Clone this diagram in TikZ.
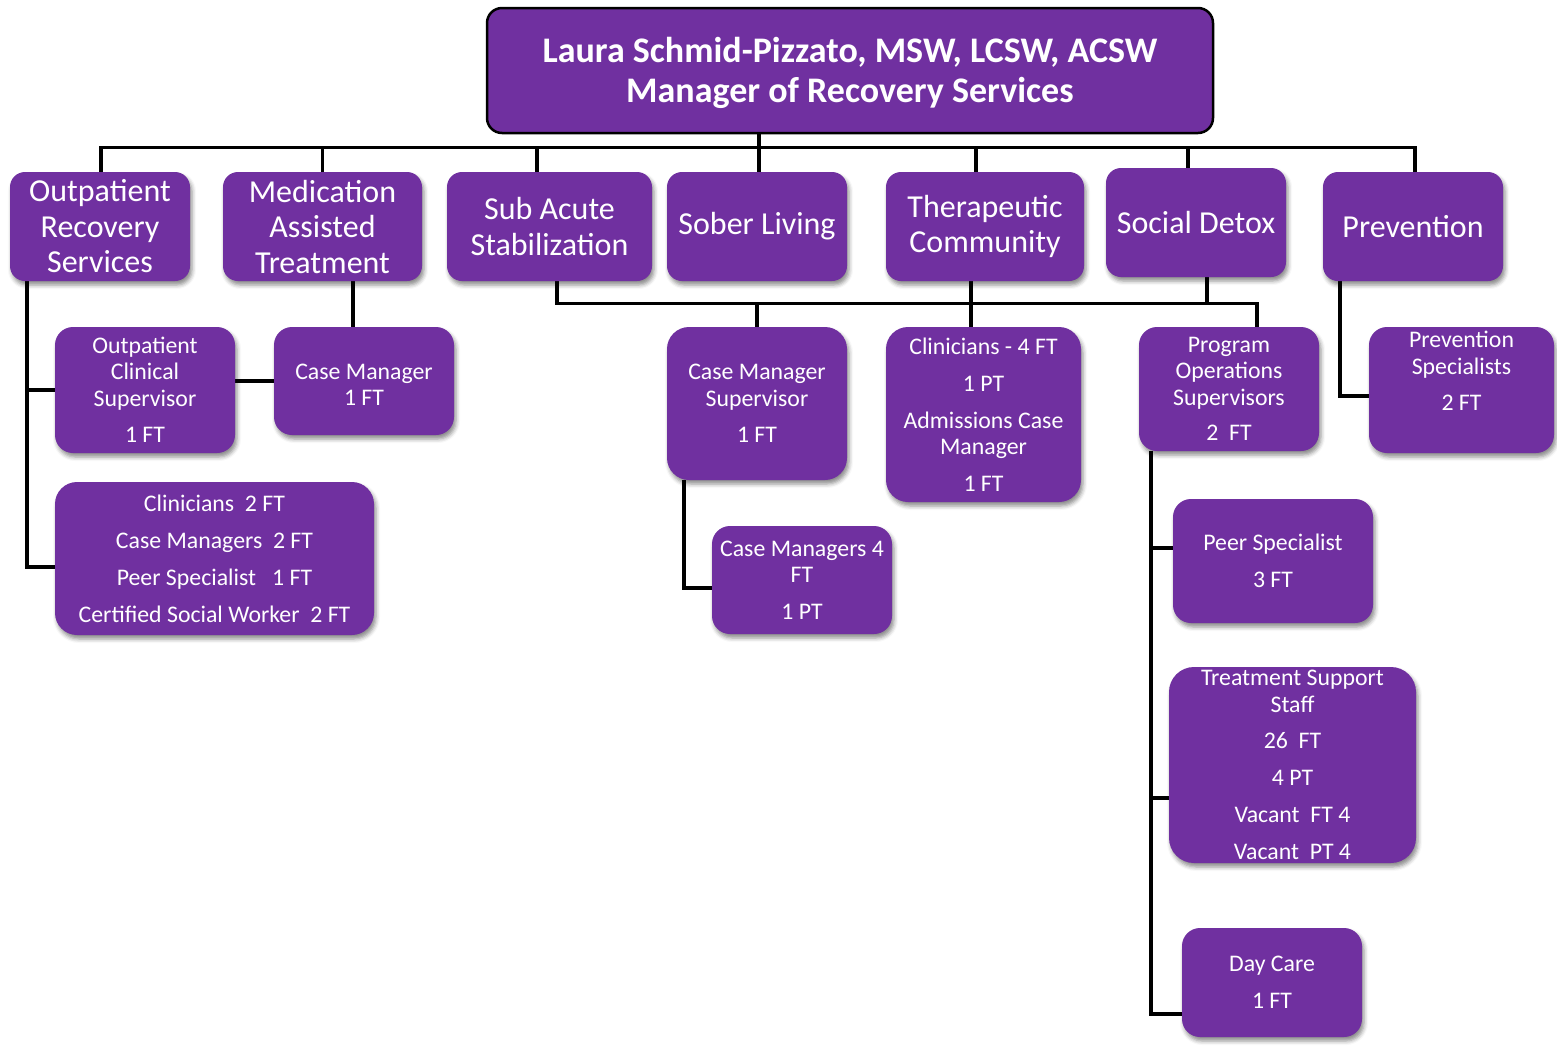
\documentclass[tikz,border=0pt]{standalone}
\usepackage{fontspec}
\setmainfont{Carlito}
\usetikzlibrary{shadows.blur,backgrounds}
\definecolor{orgpurple}{HTML}{7030A0}
\begin{document}
\begin{tikzpicture}[x=1pt,y=-1pt,
  conn/.style={draw=black,line width=3.2pt,line join=miter},
  unit/.style={fill=orgpurple,text=white,align=center,inner sep=0pt,
    rounded corners=15pt,
    blur shadow={shadow xshift=2pt,shadow yshift=-4pt,shadow blur radius=4pt,shadow opacity=45}},
  head/.style={unit,font=\fontsize{32}{35.5}\selectfont,rounded corners=15pt},
  staff/.style={unit,font=\fontsize{23.8}{26.5}\selectfont,rounded corners=18pt},
  txt/.style={text=white,align=center,inner sep=0pt,font=\fontsize{23.8}{26.5}\selectfont},
]
\useasboundingbox (0,0) rectangle (1557,1045);

% ---- director ----
\node[fill=orgpurple,text=white,align=center,inner sep=0pt,rounded corners=15pt,
      draw=black,line width=2.5pt,minimum width=726pt,minimum height=125pt] (top) at (850,70.5) {};
\node[text=white,align=center,inner sep=0pt,
      font=\fontsize{36}{40}\selectfont\bfseries] (top-text) at (850,72.5)
  {Laura Schmid-Pizzato, MSW, LCSW, ACSW\\Manager of Recovery Services};

% ---- programs ----
\node[head,minimum width=180pt,minimum height=109pt] (ors) at (100,226.5)
  {Outpatient\\Recovery\\Services};
\node[head,minimum width=199pt,minimum height=109pt] (mat) at (322.5,226.5)
  {Medication\\Assisted\\Treatment};
\node[head,minimum width=205pt,minimum height=109pt] (sas) at (549.5,226.5)
  {Sub Acute\\Stabilization};
\node[head,minimum width=180pt,minimum height=109pt] (sl) at (757,226.5)
  {Sober Living};
\node[head,minimum width=198pt,minimum height=109pt] (tc) at (985,226.5)
  {Therapeutic\\Community};
\node[head,minimum width=180pt,minimum height=109pt] (sd) at (1196,222.5)
  {Social Detox};
\node[head,minimum width=180pt,minimum height=109pt] (prev) at (1413,226.5)
  {Prevention};

% ---- staff ----
\node[staff,minimum width=180pt,minimum height=126pt] (ocs) at (145,390)
  {Outpatient\\Clinical\\Supervisor\\[10pt]1 FT};
\node[staff,minimum width=180pt,minimum height=108pt] (mcm) at (364,381) {};
\node[txt] (mcm-text) at (364,385) {Case Manager\\1 FT};
\node[staff,minimum width=319pt,minimum height=153pt,rounded corners=22pt] (opt) at (214.5,558.5)
  {Clinicians\ \ 2 FT\\[10.5pt]Case Managers\ \ 2 FT\\[10.5pt]Peer Specialist\ \ \ 1 FT\\[10.5pt]Certified Social Worker\ \ 2 FT};

\node[staff,minimum width=180pt,minimum height=153pt,rounded corners=22pt] (cms) at (757,403.5)
  {Case Manager\\Supervisor\\[10pt]1 FT};
\node[staff,minimum width=180pt,minimum height=108pt] (cm4) at (802,580)
  {Case Managers 4\\FT\\[10pt]1 PT};
\node[staff,minimum width=195pt,minimum height=175pt,rounded corners=22pt] (tcc) at (983.5,414.5)
  {Clinicians - 4 FT\\[10.5pt]1 PT\\[10.5pt]Admissions Case\\Manager\\[10.5pt]1 FT};

\node[staff,minimum width=180pt,minimum height=124pt] (pos) at (1229,389)
  {Program\\Operations\\Supervisors\\[9pt]2\ \ FT};
\node[staff,minimum width=185pt,minimum height=126pt] (ps) at (1461.5,390) {};
\node[txt] (ps-text) at (1461.5,371) {Prevention\\Specialists\\[10pt]2 FT};
\node[staff,minimum width=200pt,minimum height=124pt] (peer) at (1273,561)
  {Peer Specialist\\[10.5pt]3 FT};
\node[staff,minimum width=247pt,minimum height=196pt,rounded corners=25pt] (tss) at (1292.5,765)
  {Treatment Support\\Staff\\[10pt]26\ \ FT\\[10.5pt]4 PT\\[10.5pt]Vacant\ \ FT 4\\[10.5pt]Vacant\ \ PT 4};
\node[staff,minimum width=180pt,minimum height=109pt] (dc) at (1272,982.5)
  {Day Care\\[10.5pt]1 FT};

% ---- connectors ----
\begin{scope}[on background layer]
  % director down to the program row, and the bus along it
  \draw[conn] ([xshift=-91pt]top.south) -- ([xshift=2pt]sl.north);
  \coordinate (busL) at ([xshift=1pt,yshift=24pt]ors.north);
  \coordinate (busR) at ([xshift=2pt,yshift=24pt]prev.north);
  \draw[conn] ([xshift=1pt]ors.north) -- (busL) -- (busR) -- ([xshift=2pt]prev.north);
  \draw[conn] (mat.north) -- (mat.north |- busL);
  \draw[conn] ([xshift=-12.5pt]sas.north) -- ++(0,-24);
  \draw[conn] ([xshift=-9pt]tc.north) -- ++(0,-24);
  \draw[conn] ([xshift=-8pt]sd.north) -- ++(0,-20);

  % residential programs share a second bus
  \draw[conn] ([xshift=7.5pt]sas.south) -- ++(0,22) -| ([xshift=28pt]pos.north);
  \draw[conn] (cms.north) -- ++(0,-24);
  \draw[conn] ([xshift=-12.5pt]tcc.north) -- ++(0,-46);
  \draw[conn] ([xshift=11pt]sd.south) -- ++(0,26);

  % staff links
  \draw[conn] ([xshift=-11pt]mcm.north) -- ++(0,-46);
  \draw[conn] (mcm.west) -- (mcm.west -| ocs.east);
  \draw[conn] ([xshift=-73pt]ors.south) |- (ocs.west);
  \draw[conn] ([xshift=-73pt]ors.south) |- ([yshift=-8.5pt]opt.west);
  \draw[conn] ([xshift=-73pt]cms.south) |- ([yshift=-8pt]cm4.west);
  \draw[conn] ([xshift=-73pt]prev.south) |- ([yshift=-6pt]ps.west);
  \draw[conn] ([xshift=-78pt]pos.south) |- ([yshift=13pt]peer.west);
  \draw[conn] ([xshift=-78pt]pos.south) |- ([yshift=-33pt]tss.west);
  \draw[conn] ([xshift=-78pt]pos.south) |- ([yshift=-31.5pt]dc.west);
\end{scope}
\end{tikzpicture}
\end{document}
